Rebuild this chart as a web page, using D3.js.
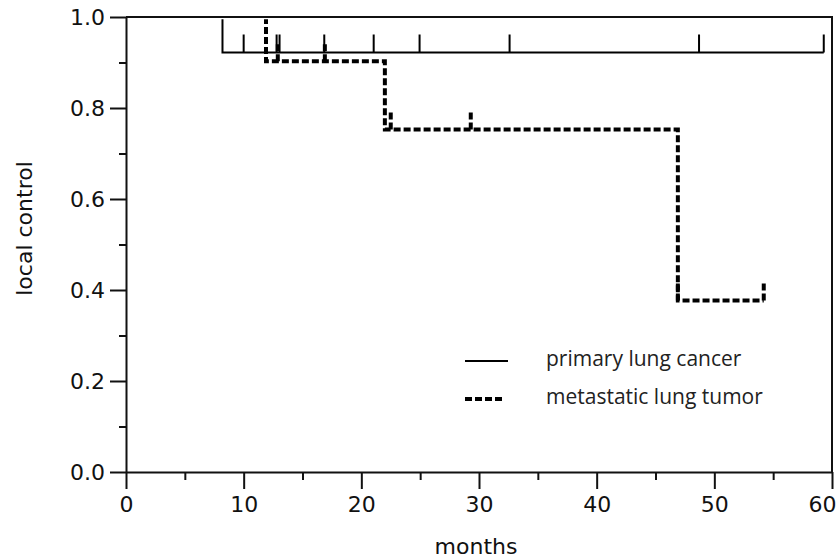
<!DOCTYPE html>
<html>
<head>
<meta charset="utf-8">
<script src="https://cdn.jsdelivr.net/npm/d3@7"></script>
<style>
  body { margin: 0; background: #fff; }
  .axis text { font-family: "DejaVu Sans", sans-serif; font-size: 22px; fill: #111; }
  .axis path, .axis line { stroke: #111; stroke-width: 2px; }
  .legend text { font-family: "Open Sans", sans-serif; font-size: 21px; fill: #222; }
</style>
</head>
<body>
<div id="chart-area"></div>
<script>
// Kaplan-Meier curves (months, local control)
var primaryTimes = [0, 8.2, 59.3];
var primarySurv = [1.0, 0.922, 0.922];
var primaryCensored = [10.0, 12.8, 13.05, 16.85, 21.05, 24.95, 32.6, 48.7, 59.3];

var metaTimes = [0, 11.9, 22.0, 46.9, 54.2];
var metaSurv = [1.0, 0.903, 0.753, 0.377, 0.377];
var metaCensored = [12.9, 16.9, 22.5, 29.3, 46.9, 54.2];

var xTicks = [0, 10, 20, 30, 40, 50, 60];
var xMinorTicks = [5, 15, 25, 35, 45, 55];
var yTicks = [0, 0.2, 0.4, 0.6, 0.8, 1.0];
var yMinorTicks = [0.1, 0.3, 0.5, 0.7, 0.9];

var seriesNames = ["primary lung cancer", "metastatic lung tumor"];

var margin = { top: 17, right: 6, bottom: 87, left: 126 };
var width = 838 - margin.left - margin.right;
var height = 559 - margin.top - margin.bottom;

var svg = d3.select("#chart-area")
    .append("svg")
        .attr("width", 838)
        .attr("height", 559);

var group = svg.append("g")
    .attr("transform", "translate(" + margin.left + ", " + margin.top + ")");

var x = d3.scaleLinear().domain([0, 60]).range([0, width]);
var y = d3.scaleLinear().domain([0, 1]).range([height, 0]);

// clip so the curves don't spill over the top frame line
svg.append("defs").append("clipPath")
    .attr("id", "plot-clip")
    .append("rect")
        .attr("x", -2)
        .attr("y", 2.2)
        .attr("width", width + 4)
        .attr("height", height);

// minor ticks first, the major axes on top
group.append("g")
    .attr("class", "axis")
    .attr("transform", "translate(0, " + height + ")")
    .call(d3.axisBottom(x).tickValues(xMinorTicks).tickSize(8).tickFormat(""))
    .select(".domain").remove();

group.append("g")
    .attr("class", "axis")
    .call(d3.axisLeft(y).tickValues(yMinorTicks).tickSize(7).tickFormat(""))
    .select(".domain").remove();

var xAxisGroup = group.append("g")
    .attr("class", "axis x-axis")
    .attr("transform", "translate(0, " + height + ")")
    .call(d3.axisBottom(x).tickValues(xTicks).tickSize(17).tickSizeOuter(0).tickPadding(7));

// last label sits against the page edge, like the original
xAxisGroup.selectAll(".tick text")
    .filter(function(d) { return d === 60; })
    .attr("text-anchor", "end")
    .attr("dx", 4);

group.append("g")
    .attr("class", "axis y-axis")
    .call(d3.axisLeft(y).tickValues(yTicks).tickSize(16).tickSizeOuter(0).tickPadding(5)
        .tickFormat(d3.format(".1f")));

// top and right frame
group.append("path")
    .attr("d", "M" + x(0) + "," + y(1) + "H" + x(60) + "V" + y(0))
    .attr("fill", "none")
    .attr("stroke", "#111")
    .attr("stroke-width", 2);

// axis labels
group.append("text")
    .attr("class", "axis-label")
    .attr("x", 476 - margin.left)
    .attr("y", height + 82)
    .attr("text-anchor", "middle")
    .attr("font-family", "DejaVu Sans, sans-serif")
    .attr("font-size", "22px")
    .attr("fill", "#111")
    .text("months");

group.append("text")
    .attr("class", "axis-label")
    .attr("x", -(y(0.5) - 16))
    .attr("y", -94)
    .attr("text-anchor", "middle")
    .attr("transform", "rotate(-90)")
    .attr("font-family", "DejaVu Sans, sans-serif")
    .attr("font-size", "22px")
    .attr("fill", "#111")
    .text("local control");

var line = d3.line()
    .x(function(d) { return x(d[0]); })
    .y(function(d) { return y(d[1]); })
    .curve(d3.curveStepAfter);

function survivalAt(times, surv, t) {
    var s = surv[0];
    for (var i = 0; i < times.length; i++) {
        if (times[i] <= t) s = surv[i];
    }
    return s;
}

var plot = group.append("g").attr("clip-path", "url(#plot-clip)");

var series = [
    { times: primaryTimes, surv: primarySurv, censored: primaryCensored,
      width: 2, dash: null, tick: 18 },
    { times: metaTimes, surv: metaSurv, censored: metaCensored,
      width: 4, dash: "7,3", tick: 17 }
];

series.forEach(function(s) {
    var pts = s.times.map(function(t, i) { return [t, s.surv[i]]; });
    plot.append("path")
        .attr("d", line(pts))
        .attr("fill", "none")
        .attr("stroke", "#000")
        .attr("stroke-width", s.width)
        .attr("stroke-dasharray", s.dash);

    plot.selectAll(null)
        .data(s.censored)
        .enter()
        .append("line")
            .attr("x1", function(d) { return x(d); })
            .attr("x2", function(d) { return x(d); })
            .attr("y1", function(d) { return y(survivalAt(s.times, s.surv, d)); })
            .attr("y2", function(d) { return y(survivalAt(s.times, s.surv, d)) - s.tick; })
            .attr("stroke", "#000")
            .attr("stroke-width", s.width)
            .attr("stroke-dasharray", s.dash);
});

// legend
var legend = svg.append("g").attr("class", "legend");
var legendRows = [
    { y: 361, width: 2, dash: null, x1: 465, x2: 508 },
    { y: 399, width: 4, dash: "7,3", x1: 465, x2: 502 }
];
legendRows.forEach(function(r, i) {
    legend.append("line")
        .attr("x1", r.x1)
        .attr("x2", r.x2)
        .attr("y1", r.y)
        .attr("y2", r.y)
        .attr("stroke", "#000")
        .attr("stroke-width", r.width)
        .attr("stroke-dasharray", r.dash);
    legend.append("text")
        .attr("x", 546)
        .attr("y", r.y + 5)
        .text(seriesNames[i]);
});
</script>
</body>
</html>
